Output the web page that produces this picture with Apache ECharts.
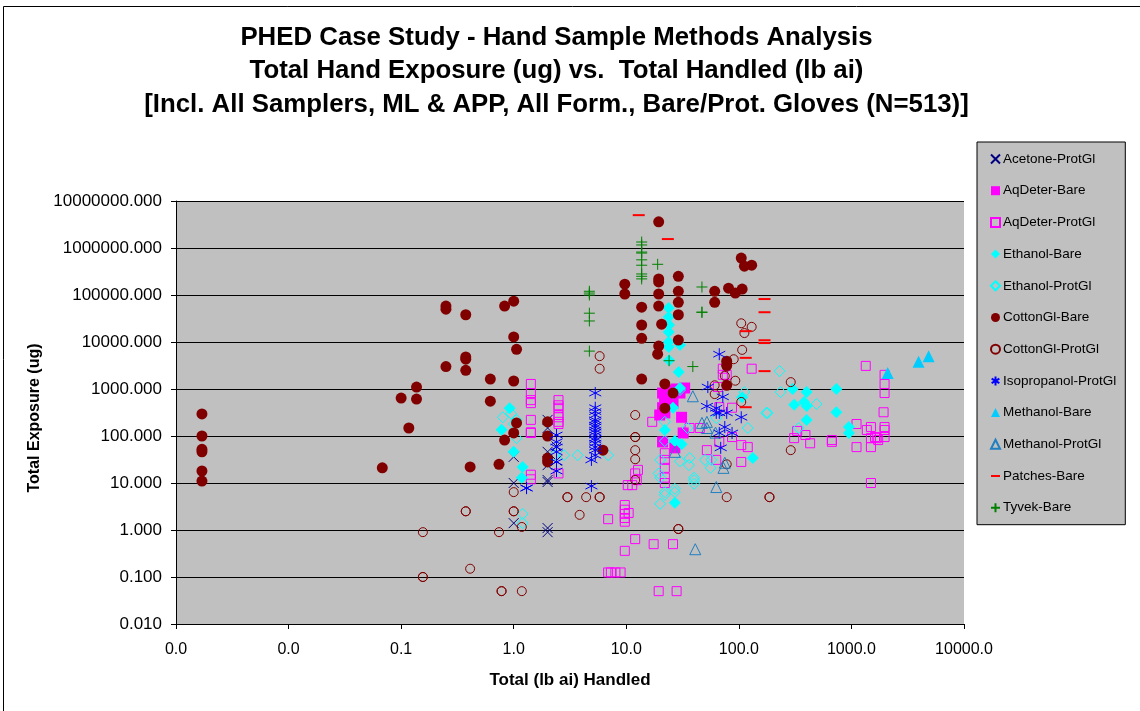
<!DOCTYPE html>
<html><head><meta charset="utf-8">
<script src="https://cdn.jsdelivr.net/npm/echarts@6/dist/echarts.min.js"></script>
<style>html,body{margin:0;padding:0;background:#fff}#c{width:1140px;height:711px}</style></head>
<body><div id="c"></div><script>
const titleLines = ["PHED Case Study - Hand Sample Methods Analysis","Total Hand Exposure (ug) vs.  Total Handled (lb ai)","[Incl. All Samplers, ML & APP, All Form., Bare/Prot. Gloves (N=513)]"];
const xAxisName = "Total (lb ai) Handled";
const yAxisName = "Total Exposure (ug)";
const acetoneProt = [[2,220],[2,148],[2,46],[2,24],[2,11.6],[2,10.5],[1,36],[1,10],[1,1.4],[2,1.1],[2,0.9],[2.4,60],[2.4,30]];
const aqDeterBare = [[21,820],[22,580],[21,400],[19.8,280],[33,1050],[30,820],[31,250],[32,116],[21,75],[27,56],[24,950],[26,500],[22,310],[28,1000],[24,700],[22,700]];
const aqDeterProt = [[1.42,1280],[1.42,820],[1.42,580],[1.42,500],[2.5,580],[2.5,450],[1.42,220],[1.42,120],[1.42,116],[1.42,15],[1.42,12],[2.5,280],[2.5,200],[2.5,16],[2.5,400],[2.5,250],[2.5,180],
 [9.7,3.4],[9.7,2.7],[9.7,2.2],[10.5,2.3],[9.7,1.8],[9.7,1.5],[6.9,1.7],[12,0.64],[9.7,0.36],[17.5,0.5],[26,0.5],[7.3,0.125],[8,0.125],[8.9,0.125],[6.9,0.125],[19.4,0.05],[28,0.05],
 [12,16],[12.7,19],[11.3,9],[12.4,11.5],[10.3,9],[17,200],[22,43],[22,31],[22,21],[22,13],[22,10],[36.5,148],[45,148],[52,50],[63,31],[105,28],[105,64],[120,58],[87,95],[67,75],[67,410],[72,2000],[72,2700],[78,2000],[130,2700],[65,1100],[87,400],
 [1340,3100],[1970,2000],[1970,1280],[1970,820],[1930,320],[1970,155],[1970,95],[1970,134],[1110,180],[1490,155],[1370,134],[1680,90],[1620,95],[1730,82],[1110,58],[1490,58],[1490,90],[670,82],[670,75],[430,70],[390,105],[310,90],[330,128],[1490,10]];
const ethanolBare = [[0.92,390],[0.78,135],[1,46],[1.2,22],[1.18,13],[23.8,53000],[23.8,34000],[24,23000],[23.8,16300],[23.8,10000],[23.8,7800],[30,8600],[24,4100],[29.2,2300],[26,820],[26,400],[22,134],[27,78],[31,67],[133,34],[107,670],[30,1050],[27,3.8],
 [300,1000],[400,860],[735,1000],[310,460],[380,530],[400,435],[735,320],[400,220],[950,155],[950,116]];
const ethanolProt = [[0.8,250],[1.06,220],[1.06,90],[0.95,300],[1,180],[1.2,2.2],[1.2,1.4],[2.3,39],[2.8,39],[3.7,39],[6.9,39],[22,200],[22,78],[36.5,34],[20,31],[30,29],[36,24],[19.4,16],[20,13],[27,7.5],[22,6.4],[40,13],[40,11.5],[40,9.6],[50,31],[57,31],[56,21],[63,240],[120,148],[180,310],[35,148],[30,950],[20,3.6],[22,5.6],[27,6.4],[112,860],[230,2400],[235,860],[490,480],[175,310],[340,148]];
const cottonBare = [[0.0017,295],[0.0017,100],[0.0017,52],[0.0017,46],[0.0017,18],[0.0017,11],[0.25,58000],[0.25,50000],[0.375,38000],[0.83,58000],[1,74000],[0.25,3000],[0.375,4800],[0.375,4300],[0.375,2500],[1,12800],[1.06,7000],[0.62,1630],[1,1480],[0.137,1100],[0.1,640],[0.137,610],[0.62,550],[0.117,148],[0.068,21],[0.41,22],[0.74,25],[1.06,190],[1,116],[0.83,82],[2,200],[2,100],[2,34],[2,28],[6.2,50],
 [19.4,3600000],[9.7,170000],[9.7,105000],[13.7,55000],[13.7,23000],[13.7,12000],[13.7,1630],[19.4,220000],[19.4,190000],[19.4,105000],[19.4,58000],[20.6,24000],[19.4,8200],[19,5500],[29,250000],[29,120000],[29,70000],[29,38000],[29,11000],[22,1280],[26,820],[22,390],[61,120000],[61,70000],[81,140000],[93,110000],[107,134000],[105,610000],[112,410000],[130,430000],[78,3900],[78,3200],[78,1200]];
const cottonProt = [[1,6.4],[0.375,2.5],[0.375,2.5],[1,2.5],[1,2.5],[0.156,0.9],[0.74,0.9],[1.18,1.16],[0.41,0.15],[0.156,0.1],[0.156,0.1],[0.78,0.05],[0.78,0.05],[1.18,0.05],[5.8,5000],[5.8,2700],[105,25000],[130,21000],[112,15500],[107,6800],[78,3000],[75,1900],[93,1500],[61,1200],[61,780],[105,530],[90,4300],[12,280],[12,95],[12,95],[12,50],[12,32],[12,11.6],[78,25],[78,5],[3,5],[3,5],[4.4,5],[5.8,5],[5.8,5],[3.85,2.1],[29,1.05],[29,1.05],[187,5],[187,5],[289,1400],[289,50]];
const isoProt = [[5.3,820],[5.3,400],[5.3,330],[5.3,280],[5.3,220],[5.3,200],[5.3,170],[5.3,155],[5.3,134],[5.3,120],[5.3,105],[5.3,90],[5.3,82],[5.3,70],[5.3,58],[5.3,50],[5.3,39],[4.9,31],[4.9,8.6],[2.4,105],[2.4,75],[2.4,58],[2.4,46],[2.4,28],[2.4,18],[1.3,7.8],[1.3,7.8],
 [67,5500],[53,1100],[72,680],[52,430],[63,390],[67,310],[78,310],[105,250],[63,310],[75,155],[87,116],[67,116],[69,56]];
const methanolBare = [[2100,2200],[3950,3800],[4850,5000]];
const methanolProt = [[39,700],[52,200],[52,148],[62,118],[27,46],[75,27],[73,21],[63,8.2],[41,0.39],[47,190]];
const patchesBare = [[12.9,5000000],[23.4,1550000],[169,82000],[169,43000],[169,10900],[169,9500],[169,2400],[115,4600],[115,17000],[115,410]];
const tyvekBare = [[4.7,120000],[4.7,110000],[4.7,100000],[4.7,41000],[4.7,28000],[4.7,6400],[13.7,1340000],[13.7,1160000],[13.7,820000],[13.7,780000],[13.7,560000],[13.7,430000],[13.7,280000],[13.7,220000],[13.7,250000],[19,450000],[47,43000],[47,43000],[47,148000],[24,4000],[39,3000]];

const X_PATH='path://M0 0L10 10M10 0L0 10';
const AST_PATH='path://M5 0L5 10M0.7 2.5L9.3 7.5M0.7 7.5L9.3 2.5';
const PLUS_PATH='path://M5 0L5 10M0 5L10 5';
const DASH_PATH='path://M0 0L0 0M0 10L0 10M0 5L10 5';
function filled(name,data,symbol,size,color){return {name,type:'scatter',data,symbol,symbolSize:size,itemStyle:{color,opacity:1},emphasis:{disabled:true}};}
function open(name,data,symbol,size,color,w){return {name,type:'scatter',data,symbol,symbolSize:size,itemStyle:{color:'transparent',borderColor:color,borderWidth:w||1,opacity:1},emphasis:{disabled:true}};}
const series=[
 open('Acetone-ProtGl',acetoneProt,X_PATH,10,'#000080'),
 filled('AqDeter-Bare',aqDeterBare,'rect',11,'#ff00ff'),
 open('AqDeter-ProtGl',aqDeterProt,'rect',9,'#ff00ff'),
 filled('Ethanol-Bare',ethanolBare,'diamond',12,'#00ffff'),
 open('Ethanol-ProtGl',ethanolProt,'diamond',11,'#00ffff'),
 filled('CottonGl-Bare',cottonBare,'circle',11,'#800000'),
 open('CottonGl-ProtGl',cottonProt,'circle',9,'#800000'),
 open('Isopropanol-ProtGl',isoProt,AST_PATH,12,'#0000ff'),
 filled('Methanol-Bare',methanolBare,'triangle',12,'#00ccff'),
 open('Methanol-ProtGl',methanolProt,'triangle',11,'#1f7fc0'),
 open('Patches-Bare',patchesBare,DASH_PATH,12,'#ff0000',2),
 open('Tyvek-Bare',tyvekBare,PLUS_PATH,11,'#008000')
];
const chart=echarts.init(document.getElementById('c'),null,{renderer:'canvas'});
const F='"Liberation Sans",Arial,sans-serif';
chart.setOption({
 animation:false,backgroundColor:'#fff',
 title:{text:titleLines.join('\n'),left:551.5,top:16,textAlign:'center',textStyle:{fontFamily:F,fontSize:25.8,fontWeight:'bold',color:'#000',lineHeight:33.5}},
 graphic:[{type:'rect',z:-1,silent:true,shape:{x:3.5,y:6.5,width:1300,height:900},style:{fill:'none',stroke:'#000',lineWidth:1}}],
 grid:{left:176,top:201,right:176,bottom:87,show:true,backgroundColor:'#c0c0c0',borderWidth:0},
 legend:{orient:'vertical',left:977,top:142,padding:[10,9,10,13],itemGap:17.7,itemWidth:9,itemHeight:9,backgroundColor:'#c0c0c0',borderColor:'#000',borderWidth:1,align:'left',textStyle:{fontFamily:F,fontSize:13.5,color:'#000',padding:[0,0,0,-2]},selectedMode:false},
 xAxis:{type:'log',logBase:10,min:0.001,max:10000,name:xAxisName,nameLocation:'middle',nameGap:48,nameTextStyle:{fontFamily:F,fontWeight:'bold',fontSize:17,color:'#000'},
  axisLine:{show:true,onZero:false,lineStyle:{color:'#000',width:1}},axisTick:{show:true,length:5,lineStyle:{color:'#000'}},minorTick:{show:false},splitLine:{show:false},
  axisLabel:{fontFamily:F,fontSize:16,color:'#000',margin:18,showMinLabel:true,showMaxLabel:true,formatter:v=>Number(v).toFixed(1)}},
 yAxis:{type:'log',logBase:10,min:0.01,max:10000000,name:yAxisName,nameLocation:'middle',nameGap:133,nameTextStyle:{fontFamily:F,fontWeight:'bold',fontSize:16,color:'#000',padding:[0,11,0,0]},
  axisLine:{show:true,onZero:false,lineStyle:{color:'#000',width:1}},axisTick:{show:true,length:5,lineStyle:{color:'#000'}},minorTick:{show:false},splitLine:{show:true,lineStyle:{color:'#000',width:1}},
  axisLabel:{fontFamily:F,fontSize:17,color:'#000',margin:14,showMinLabel:true,showMaxLabel:true,formatter:v=>Number(v).toFixed(3)}},
 series
});
</script></body></html>
